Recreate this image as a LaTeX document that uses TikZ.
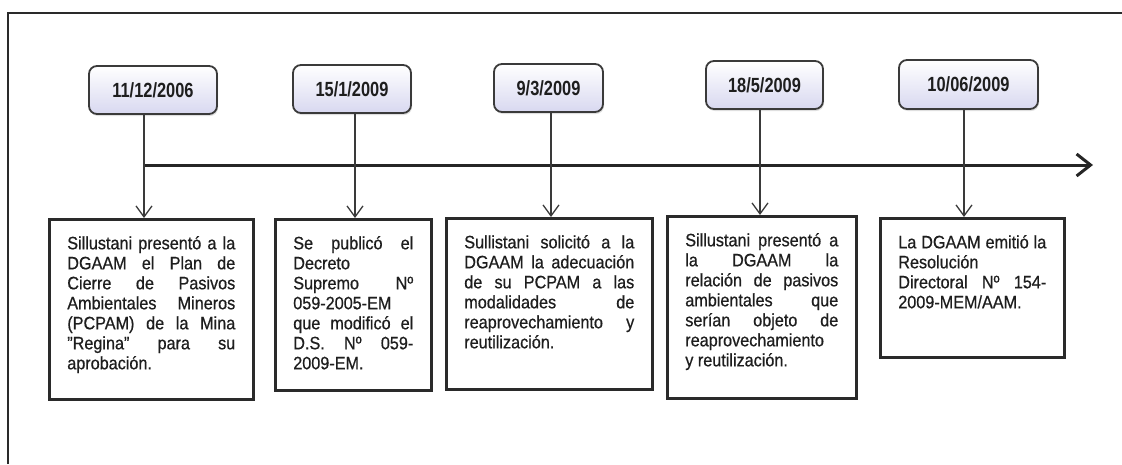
\documentclass[tikz,border=0pt]{standalone}
\usepackage{fontspec}
\setmainfont[FakeStretch=0.9,FakeBold=0.6]{Liberation Sans}
\newfontfamily\datefont[FakeStretch=0.8]{Liberation Sans}
\usetikzlibrary{arrows.meta,shadows}
\definecolor{framec}{HTML}{2A2A2A}
\definecolor{datebd}{HTML}{3A3A3A}
\definecolor{datebot}{HTML}{D8D8F0}
\definecolor{txtc}{HTML}{1E1E1E}
\newcommand{\boxtext}[3]{\parbox[c][#1][t]{#2}{\hyphenpenalty=10000\exhyphenpenalty=10000\tolerance=10000\hbadness=10000\fontsize{18}{20}\selectfont\rule{0pt}{14pt}#3}}
\tikzset{
  datebox/.style={draw=datebd, line width=1.8pt, rounded corners=8pt,
    top color=white, bottom color=datebot, text=txtc,
    font=\datefont\bfseries\fontsize{20.5}{24}\selectfont,
    drop shadow={opacity=0.25, shadow xshift=1pt, shadow yshift=-2pt},
    inner sep=0pt},
  textbox/.style={draw=framec, line width=2.6pt, fill=white, text=txtc,
    inner xsep=18pt, inner ysep=16pt, anchor=north west},
  conn/.style={draw=datebd, line width=1.3pt, -{Straight Barb[length=11pt,width=16pt]}},
  timeline/.style={draw=black!85, line width=3pt, -{Straight Barb[length=14pt,width=22pt]}},
  framestyle/.style={draw=framec, line width=2pt}
}
\begin{document}
\begin{tikzpicture}[x=1pt,y=-1pt]
\useasboundingbox (0,0) rectangle (1122,464);
% frame
\coordinate (fr0) at (8,464);
\coordinate (fr1) at (8,13);
\coordinate (fr2) at (1122,13);
\draw[framestyle] (fr0) -- (fr1) -- (fr2);
% connector x positions
\coordinate (a1) at (144,0);
\coordinate (a2) at (355,0);
\coordinate (a3) at (551,0);
\coordinate (a4) at (760,0);
\coordinate (a5) at (964,0);
% timeline
\coordinate (tl0) at (144,165);
\coordinate (tl1) at (1093,165);
\draw[timeline] (tl0) -- (tl1);
% date boxes
\node[datebox, minimum width=128pt, minimum height=48pt] (d1) at (153,90) {11/12/2006};
\node[datebox, minimum width=118pt, minimum height=48pt] (d2) at (352,89) {15/1/2009};
\node[datebox, minimum width=109pt, minimum height=48pt] (d3) at (548.5,88) {9/3/2009};
\node[datebox, minimum width=117pt, minimum height=48pt] (d4) at (764.5,85) {18/5/2009};
\node[datebox, minimum width=139pt, minimum height=49pt] (d5) at (968.5,84.5) {10/06/2009};
% text boxes
\node[textbox] (t1) at (48,218) {\boxtext{148pt}{168pt}{Sillustani presentó a la\linebreak DGAAM el Plan de\linebreak Cierre de Pasivos\linebreak Ambientales Mineros\linebreak (PCPAM) de la Mina\linebreak "Regina" para su\linebreak aprobación.}};
\node[textbox] (t2) at (274,218) {\boxtext{139pt}{120pt}{Se publicó el\linebreak Decreto\linebreak Supremo Nº\linebreak 059-2005-EM\linebreak que modificó el\linebreak D.S. Nº 059-\linebreak 2009-EM.}};
\node[textbox] (t3) at (445,217) {\boxtext{139pt}{170pt}{Sullistani solicitó a la\linebreak DGAAM la adecuación\linebreak de su PCPAM a las\linebreak modalidades de\linebreak reaprovechamiento y\linebreak reutilización.}};
\node[textbox] (t4) at (666,215) {\boxtext{150pt}{153pt}{Sillustani presentó a\linebreak la DGAAM la\linebreak relación de pasivos\linebreak ambientales que\linebreak serían objeto de\linebreak reaprovechamiento\linebreak y reutilización.}};
\node[textbox] (t5) at (879,217) {\boxtext{107pt}{148pt}{La DGAAM emitió la\linebreak Resolución\linebreak Directoral Nº 154-\linebreak 2009-MEM/AAM.}};
% connectors
\draw[conn] (d1.south -| a1) -- (t1.north -| a1);
\draw[conn] (d2.south -| a2) -- (t2.north -| a2);
\draw[conn] (d3.south -| a3) -- (t3.north -| a3);
\draw[conn] (d4.south -| a4) -- (t4.north -| a4);
\draw[conn] (d5.south -| a5) -- (t5.north -| a5);
\end{tikzpicture}
\end{document}
